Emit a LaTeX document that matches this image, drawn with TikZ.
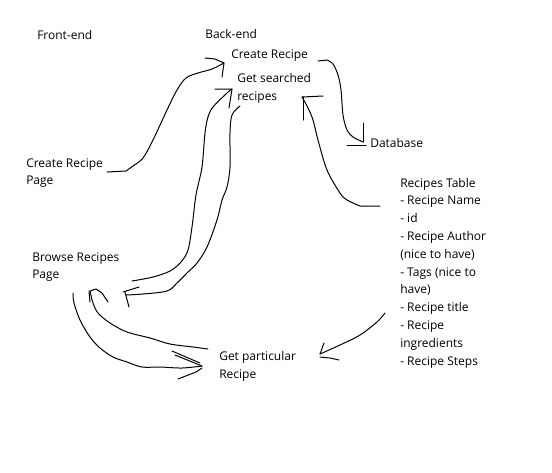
\documentclass[tikz,border=0pt]{standalone}
\usepackage{fontspec}
\newfontfamily\uifont{Open Sans}
\begin{document}
\begin{tikzpicture}[x=0.75pt,y=-0.75pt,
  hand/.style={line width=0.75pt,line cap=round,line join=round},
  lbl/.style={inner sep=0pt,anchor=west,align=left,font=\uifont\fontsize{9}{13.35}\selectfont}]
\useasboundingbox (0,0) rectangle (552,472);
\fill[white] (0,0) rectangle (552,472);
% labels
\node[lbl] (fe) at (37,34.5) {Front-end};
\node[lbl] (be) at (205,33.5) {Back-end};
\node[lbl] (cr) at (231,56) {Create Recipe};
\node[lbl] (gs) at (237,88.5) {Get searched\\recipes};
\node[lbl] (db) at (370,142.5) {Database};
\node[lbl] (crp) at (26,173) {Create Recipe\\Page};
\node[lbl] (rt) at (400,273) {Recipes Table\\- Recipe Name\\- id\\- Recipe Author\\(nice to have)\\- Tags (nice to\\have)\\- Recipe title\\- Recipe\\ingredients\\- Recipe Steps};
\node[lbl] (brp) at (32,267) {Browse Recipes\\Page};
\node[lbl] (gp) at (219,366) {Get particular\\Recipe};
% endpoints
\coordinate (c1s) at (107,172);
\coordinate (c1e) at (224,63);
\coordinate (c2s) at (318,61);
\coordinate (c2e) at (363,142);
\coordinate (c3s) at (380,206);
\coordinate (c3e) at (302,97);
\coordinate (c4s) at (385,313);
\coordinate (c4e) at (320,354);
\coordinate (cAs) at (132,281);
\coordinate (cAe) at (232,89);
\coordinate (cBs) at (240,106);
\coordinate (cBe) at (126,295);
\coordinate (cDs) at (208,349);
\coordinate (cDe) at (90,291);
\coordinate (cCs) at (73,293);
\coordinate (cCe) at (202,366);
% Create Recipe Page -> Create Recipe
\draw[hand] (c1s) -- (126,171) plot[smooth,tension=0.55] coordinates {(126,171) (133,166) (143,158) (153,140) (167,110) (177,90) (186,78) (198,73) (212,69) (224,63)};
\draw[hand] (205,58) -- (215,59) -- (c1e) -- (222,77);
% Create Recipe -> Database
\draw[hand] (c2s) -- (327,60) plot[smooth,tension=0.55] coordinates {(327,60) (333,64) (338,75) (341,90) (343,115) (347,130) (353,137) (363,142)};
\draw[hand] (363,123) -- (c2e);
\draw[hand] (347,145) -- (366,145);
% Recipes Table -> Get searched recipes
\draw[hand] (c3s) -- (360,206) plot[smooth,tension=0.55] coordinates {(360,206) (347,200) (340,193) (327,170) (318,140) (313,120) (308,108) (302,97)};
\draw[hand] (c3e) -- (323,96);
\draw[hand] (303,97) -- (303,120);
% Recipes Table -> Get particular Recipe
\draw[hand] plot[smooth,tension=0.55] coordinates {(385,313) (377,322) (360,335) (340,345) (320,354)};
\draw[hand] (324,343) -- (c4e);
\draw[hand] (320,357) -- (330,358) -- (339,360);
% Browse -> Get searched
\draw[hand] plot[smooth,tension=0.55] coordinates {(132,281) (153,277) (170,271) (181,262) (188,250) (192,227) (196,195) (202,167) (205,133) (208,117) (213,107) (227,93) (232,89)};
\draw[hand] (215,89) -- (cAe) -- (229,108);
% Get searched -> Browse
\draw[hand] plot[smooth,tension=0.55] coordinates {(240,106) (232,115) (230,133) (230,167) (227,187) (222,200) (217,220) (207,247) (197,263) (188,272) (177,283) (167,291) (143,294) (126,295)};
\draw[hand] (123,292) -- (139,287);
\draw[hand] (125,292) -- (129,307);
% Get particular -> Browse
\draw[hand] plot[smooth,tension=0.55] coordinates {(208,349) (193,347) (170,344) (150,338) (127,332) (110,323) (98,313) (93,303) (90,291)};
\draw[hand] (cDe) -- (96,289) -- (102,293) -- (108,302);
\draw[hand] (89,291) -- (90,302);
% Browse -> Get particular
\draw[hand] plot[smooth,tension=0.55] coordinates {(73,293) (74,303) (80,320) (90,337) (100,348) (113,357) (127,362) (142,367) (160,367) (182,368) (202,366)};
\draw[hand] (172,351) -- (200,363);
\draw[hand] (175,355) -- (cCe);
\draw[hand] (202,368) -- (196,372) -- (178,379);
\end{tikzpicture}
\end{document}
